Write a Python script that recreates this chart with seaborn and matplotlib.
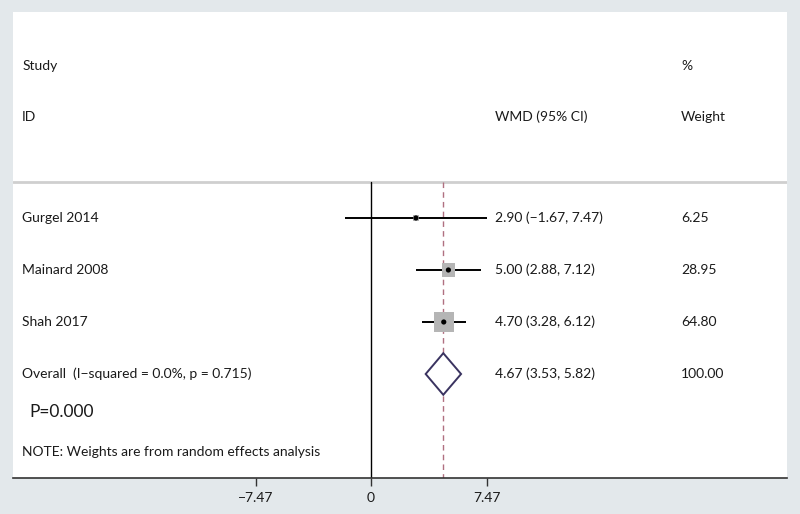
import numpy as np
import pandas as pd
import seaborn as sns
import matplotlib.pyplot as plt
from matplotlib.patches import Polygon

studies = ["Gurgel 2014", "Mainard 2008", "Shah 2017"]
wmd = [2.90, 5.00, 4.70]
lo = [-1.67, 2.88, 3.28]
hi = [7.47, 7.12, 6.12]
weight = [6.25, 28.95, 64.80]
overall = (4.67, 3.53, 5.82)
i2_text = "Overall  (I\u2212squared = 0.0%, p = 0.715)"
xticks = [-7.47, 0, 7.47]

df = pd.DataFrame({"study": studies, "wmd": wmd, "lo": lo, "hi": hi, "weight": weight})
df["row"] = np.arange(1, len(df) + 1)
row_overall = len(df) + 1

sns.set_style("white")
plt.rcParams['font.family'] = ['Lato', 'DejaVu Sans']
plt.rcParams['text.color'] = '#1a1a1a'

fig = plt.figure(figsize=(8, 5.14), dpi=100, facecolor="#e3e8eb")
ax = fig.add_axes([0.01625, 0.070, 0.9675, 0.9066])
ax.set_facecolor("white")
ax.set_xlim(-23.16, 26.9)
ax.set_ylim(6.0, -2.96)

# separator line and reference lines
sep = 0.31
ax.axhline(sep, color="#cfcfcf", lw=2, zorder=1)
ax.plot([0, 0], [sep, 6.0], color="black", lw=1, zorder=2)
ax.plot([overall[0]] * 2, [sep, 6.0], color="#b07080", lw=1, ls=(0, (4, 3)), zorder=2)

# CI lines
ax.hlines(df["row"], df["lo"], df["hi"], color="black", lw=1.4, zorder=3)

# weight squares
sns.scatterplot(data=df, x="wmd", y="row", size="weight", sizes=(6.25 * 3.2, 64.8 * 3.2),
                size_norm=(6.25, 64.8), marker="s", color="#b5b5b5", edgecolor="none",
                legend=False, ax=ax, zorder=4)
sns.scatterplot(data=df, x="wmd", y="row", marker="o", color="black", s=14,
                edgecolor="none", legend=False, ax=ax, zorder=5)

# diamond
est, dlo, dhi = overall
diamond = Polygon([[dlo, row_overall], [est, row_overall - 0.4], [dhi, row_overall],
                   [est, row_overall + 0.4]], closed=True, facecolor="white",
                  edgecolor="#3a3360", lw=1.4, zorder=5)
ax.add_patch(diamond)

# text columns
fs = 10
xa = -22.57
xe = 8.02
xw = 20.05
ax.text(xa, -1.92, "Study", fontsize=fs, va="center")
ax.text(xa, -0.94, "ID", fontsize=fs, va="center")
ax.text(xe, -0.94, "WMD (95% CI)", fontsize=fs, va="center")
ax.text(xw, -1.92, "%", fontsize=fs, va="center")
ax.text(xw, -0.94, "Weight", fontsize=fs, va="center")
for r, s, e, l, h, w in zip(df["row"], studies, wmd, lo, hi, weight):
    ax.text(xa, r, s, fontsize=fs, va="center")
    ax.text(xe, r, f"{e:.2f} ({l:.2f}, {h:.2f})".replace("-", "\u2212"), fontsize=fs, va="center")
    ax.text(xw, r, f"{w:.2f}", fontsize=fs, va="center")
ax.text(xa, row_overall, i2_text, fontsize=fs, va="center")
ax.text(xe, row_overall, f"{est:.2f} ({dlo:.2f}, {dhi:.2f})", fontsize=fs, va="center")
ax.text(xw, row_overall, "100.00", fontsize=fs, va="center")
ax.text(-22.12, 4.73, "P=0.000", fontsize=12.5, va="center")
ax.text(xa, 5.5, "NOTE: Weights are from random effects analysis", fontsize=fs, va="center")

# axes styling
for side in ["top", "right", "left"]:
    ax.spines[side].set_visible(False)
ax.spines["bottom"].set_color("#333333")
ax.spines["bottom"].set_linewidth(1.2)
ax.set_yticks([])
ax.set_xticks(xticks)
ax.set_xticklabels([f"{t:.2f}".replace("-", "\u2212") if t != 0 else "0" for t in xticks])
ax.tick_params(axis="x", direction="out", length=6, width=1, color="#333333",
               labelcolor="#1a1a1a", labelsize=10, pad=4, bottom=True)
ax.set_xlabel("")
ax.set_ylabel("")

fig.savefig("out.png", dpi=100, facecolor=fig.get_facecolor())
